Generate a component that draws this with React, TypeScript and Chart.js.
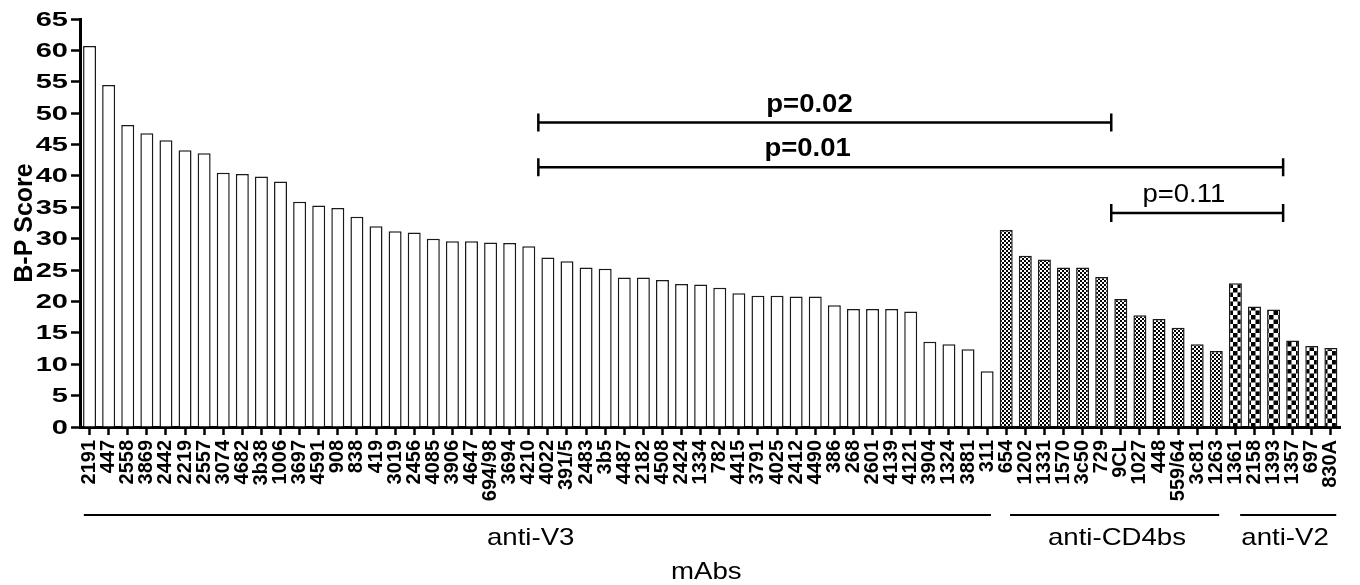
import React, { useEffect, useRef } from "react";
import { Chart, registerables } from "chart.js";

Chart.register(...registerables);

// ---------- data ----------
const v3Labels = [
  "2191", "447", "2558", "3869", "2442", "2219", "2557", "3074", "4682", "3b38",
  "1006", "3697", "4591", "908", "838", "419", "3019", "2456", "4085", "3906",
  "4647", "694/98", "3694", "4210", "4022", "391/5", "2483", "3b5", "4487", "2182",
  "4508", "2424", "1334", "782", "4415", "3791", "4025", "2412", "4490", "386",
  "268", "2601", "4139", "4121", "3904", "1324", "3881", "311",
];
const v3Scores = [
  60.7, 54.5, 48.1, 46.8, 45.7, 44.1, 43.6, 40.5, 40.3, 39.9,
  39.1, 35.9, 35.3, 34.9, 33.5, 32.0, 31.2, 31.0, 30.0, 29.6,
  29.6, 29.4, 29.3, 28.8, 27.0, 26.4, 25.4, 25.2, 23.8, 23.8,
  23.4, 22.8, 22.7, 22.2, 21.3, 20.9, 20.9, 20.8, 20.8, 19.4,
  18.8, 18.8, 18.8, 18.4, 13.6, 13.2, 12.4, 8.9,
];
const cd4Labels = ["654", "1202", "1331", "1570", "3c50", "729", "9CL", "1027", "448", "559/64", "3c81", "1263"];
const cd4Scores = [31.4, 27.3, 26.7, 25.4, 25.4, 23.9, 20.4, 17.8, 17.2, 15.8, 13.2, 12.1];
const v2Labels = ["1361", "2158", "1393", "1357", "697", "830A"];
const v2Scores = [22.9, 19.2, 18.7, 13.8, 12.9, 12.6];

const groupNames = ["anti-V3", "anti-CD4bs", "anti-V2"];
const yTitle = "B-P Score";
const xTitle = "mAbs";
const pTexts = ["p=0.02", "p=0.01", "p=0.11"];

const FONT = '"Liberation Sans", Arial, Helvetica, sans-serif';

function makeChecker(size: number, sq: number) {
  const c = document.createElement("canvas");
  c.width = size;
  c.height = size;
  const g = c.getContext("2d")!;
  g.fillStyle = "#fff";
  g.fillRect(0, 0, size, size);
  g.fillStyle = "#000";
  g.fillRect(0, 0, sq, sq);
  g.fillRect(sq, sq, sq, sq);
  return g.createPattern(c, "repeat")!;
}

function scaledText(
  ctx: CanvasRenderingContext2D,
  text: string,
  x: number,
  y: number,
  font: string,
  sx: number,
  align: CanvasTextAlign = "center",
  baseline: CanvasTextBaseline = "alphabetic"
) {
  ctx.save();
  ctx.translate(x, y);
  ctx.scale(sx, 1);
  ctx.font = font;
  ctx.textAlign = align;
  ctx.textBaseline = baseline;
  ctx.fillStyle = "#000";
  ctx.fillText(text, 0, 0);
  ctx.restore();
}

export default function App() {
  const ref = useRef<HTMLCanvasElement>(null);

  useEffect(() => {
    const canvas = ref.current!;
    const labels = [...v3Labels, ...cd4Labels, ...v2Labels];
    const data = [...v3Scores, ...cd4Scores, ...v2Scores];
    const fine = makeChecker(4, 2);
    const coarse = makeChecker(9, 4.5);
    const bg = [
      ...v3Scores.map(() => "#ffffff"),
      ...cd4Scores.map(() => fine),
      ...v2Scores.map(() => coarse),
    ];
    const n3 = v3Scores.length;
    const n4 = cd4Scores.length;
    const n2 = v2Scores.length;
    const c3 = (n3 - 1) / 2;
    const c4 = n3 + (n4 - 1) / 2;
    const c2 = n3 + n4 + (n2 - 1) / 2;

    const annot = {
      id: "annot",
      afterDraw(chart: any) {
        const { ctx, scales } = chart;
        const x = scales.x;
        const y = scales.y;
        ctx.save();
        // y tick labels (wide)
        for (let v = 0; v <= 65; v += 5) {
          const py = y.getPixelForValue(v);
          scaledText(ctx, String(v), 68, py + 1, `bold 20px ${FONT}`, 1.45, "right", "middle");
        }
        // y title
        ctx.save();
        ctx.translate(32, 223);
        ctx.rotate(-Math.PI / 2);
        ctx.font = `bold 25px ${FONT}`;
        ctx.textAlign = "center";
        ctx.textBaseline = "alphabetic";
        ctx.fillStyle = "#000";
        ctx.fillText(yTitle, 0, 0);
        ctx.restore();

        // brackets
        const brackets = [
          { t: pTexts[0], a: c3, b: c4, v: 48.5, bold: true, tx: 37.7 },
          { t: pTexts[1], a: c3, b: c2, v: 41.4, bold: true, tx: 37.6 },
          { t: pTexts[2], a: c4, b: c2, v: 34.1, bold: false, tx: 57.3 },
        ];
        ctx.strokeStyle = "#000";
        ctx.lineWidth = 2.5;
        for (const br of brackets) {
          const xa = x.getPixelForValue(br.a);
          const xb = x.getPixelForValue(br.b);
          const py = y.getPixelForValue(br.v);
          ctx.beginPath();
          ctx.moveTo(xa, py);
          ctx.lineTo(xb, py);
          ctx.moveTo(xa, py - 9);
          ctx.lineTo(xa, py + 9);
          ctx.moveTo(xb, py - 9);
          ctx.lineTo(xb, py + 9);
          ctx.stroke();
          scaledText(
            ctx,
            br.t,
            x.getPixelForValue(br.tx),
            py - 11,
            `${br.bold ? "bold " : ""}25px ${FONT}`,
            1.1
          );
        }

        // group lines under labels
        const groups = [
          { a: -0.3, b: n3 - 1 + 0.2, tx: 23.1 },
          { a: n3 + 0.2, b: n3 + n4 - 1 + 0.15, tx: 53.8 },
          { a: n3 + n4 + 0.25, b: n3 + n4 + n2 - 1 + 0.28, tx: 62.6 },
        ];
        ctx.lineWidth = 2;
        groups.forEach((g, i) => {
          const xa = x.getPixelForValue(g.a);
          const xb = x.getPixelForValue(g.b);
          ctx.beginPath();
          ctx.moveTo(xa, 515);
          ctx.lineTo(xb, 515);
          ctx.stroke();
          scaledText(ctx, groupNames[i], x.getPixelForValue(g.tx), 545, `24px ${FONT}`, 1.15);
        });
        scaledText(ctx, xTitle, x.getPixelForValue(32.3), 579, `24px ${FONT}`, 1.15);
        ctx.restore();
      },
    };

    const chart = new Chart(canvas, {
      type: "bar",
      data: {
        labels,
        datasets: [
          {
            data,
            backgroundColor: bg as any,
            borderColor: "#1a1a1a",
            borderWidth: 1.5,
            barPercentage: 0.68,
            categoryPercentage: 1,
          },
        ],
      },
      options: {
        responsive: false,
        animation: false,
        layout: { padding: { top: 19, right: 17, left: 0, bottom: 0 } },
        plugins: { legend: { display: false }, tooltip: { enabled: false } },
        scales: {
          x: {
            offset: true,
            grid: {
              display: true,
              drawOnChartArea: false,
              drawTicks: true,
              offset: false,
              tickLength: 8,
              tickWidth: 2.5,
              tickColor: "#000",
            },
            border: { display: true, color: "#000", width: 3 },
            ticks: {
              autoSkip: false,
              maxRotation: 90,
              minRotation: 90,
              padding: 5,
              color: "#000",
              font: { family: FONT, size: 20, weight: "bold" },
            },
            afterFit: (s: any) => {
              s.height = 158;
            },
          },
          y: {
            min: 0,
            max: 65,
            grid: {
              display: true,
              drawOnChartArea: false,
              drawTicks: true,
              tickLength: 9,
              tickWidth: 2.5,
              tickColor: "#000",
            },
            border: { display: true, color: "#000", width: 3 },
            ticks: {
              stepSize: 5,
              color: "rgba(0,0,0,0)",
              font: { family: FONT, size: 19, weight: "bold" },
            },
            afterFit: (s: any) => {
              s.width = 80;
            },
          },
        },
      },
      plugins: [annot],
    });
    return () => chart.destroy();
  }, []);

  return (
    <div style={{ position: "fixed", left: 0, top: 0, width: 1360, height: 585, background: "#fff" }}>
      <canvas ref={ref} width={1360} height={585} style={{ display: "block" }} />
    </div>
  );
}
